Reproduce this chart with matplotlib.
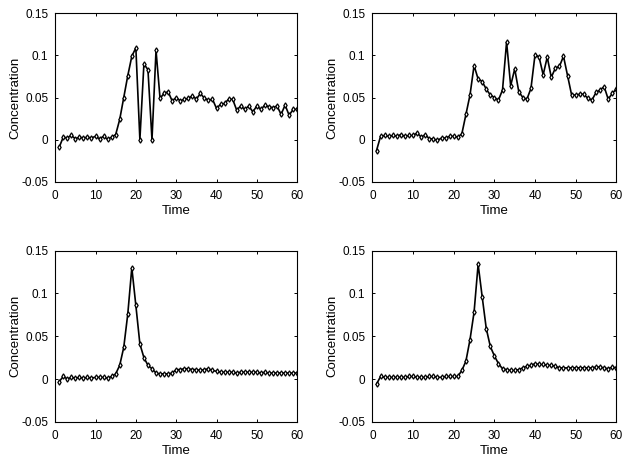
import numpy as np
import matplotlib.pyplot as plt

# time axis shared by all four panels
time = np.arange(1, 61)

# top-left panel
conc_a = [-0.009, 0.003, 0.002, 0.005, 0.001, 0.003, 0.002, 0.003, 0.002, 0.004,
          0.001, 0.004, 0.0005, 0.003, 0.006, 0.024, 0.050, 0.076, 0.099, 0.109,
          0.0, 0.090, 0.083, 0.0, 0.106, 0.049, 0.055, 0.057, 0.046, 0.050,
          0.046, 0.048, 0.049, 0.052, 0.048, 0.055, 0.049, 0.047, 0.048, 0.037,
          0.042, 0.043, 0.048, 0.048, 0.035, 0.040, 0.036, 0.040, 0.033, 0.040,
          0.036, 0.041, 0.039, 0.038, 0.040, 0.030, 0.041, 0.029, 0.036, 0.036]

# top-right panel
conc_b = [-0.013, 0.004, 0.005, 0.004, 0.005, 0.004, 0.006, 0.004, 0.005, 0.005,
          0.008, 0.003, 0.006, 0.001, 0.001, -0.001, 0.002, 0.002, 0.004, 0.004,
          0.003, 0.007, 0.030, 0.053, 0.088, 0.072, 0.069, 0.060, 0.053, 0.050,
          0.047, 0.059, 0.116, 0.064, 0.084, 0.057, 0.050, 0.048, 0.061, 0.101,
          0.098, 0.077, 0.098, 0.074, 0.085, 0.087, 0.099, 0.076, 0.053, 0.053,
          0.054, 0.054, 0.049, 0.047, 0.056, 0.059, 0.063, 0.048, 0.055, 0.060]

# bottom-left panel
conc_c = [-0.003, 0.003, 0.0, 0.002, 0.001, 0.002, 0.001, 0.002, 0.001, 0.002,
          0.002, 0.002, 0.001, 0.003, 0.006, 0.016, 0.037, 0.076, 0.130, 0.086,
          0.041, 0.025, 0.016, 0.012, 0.007, 0.006, 0.006, 0.006, 0.007, 0.011,
          0.011, 0.012, 0.012, 0.011, 0.011, 0.010, 0.011, 0.012, 0.010, 0.009,
          0.008, 0.008, 0.008, 0.008, 0.007, 0.008, 0.008, 0.008, 0.008, 0.008,
          0.007, 0.008, 0.007, 0.007, 0.007, 0.007, 0.007, 0.007, 0.007, 0.007]

# bottom-right panel
conc_d = [-0.006, 0.003, 0.002, 0.002, 0.002, 0.002, 0.002, 0.002, 0.003, 0.003,
          0.002, 0.002, 0.002, 0.003, 0.003, 0.002, 0.002, 0.003, 0.003, 0.003,
          0.003, 0.010, 0.021, 0.046, 0.078, 0.134, 0.096, 0.059, 0.038, 0.027,
          0.018, 0.012, 0.011, 0.010, 0.010, 0.011, 0.013, 0.015, 0.016, 0.018,
          0.017, 0.017, 0.016, 0.016, 0.015, 0.013, 0.013, 0.013, 0.013, 0.013,
          0.013, 0.013, 0.013, 0.013, 0.014, 0.014, 0.013, 0.012, 0.014, 0.013]

panels = [
    (conc_a, [0.088, 0.604, 0.386, 0.367]),
    (conc_b, [0.594, 0.604, 0.389, 0.367]),
    (conc_c, [0.088, 0.081, 0.386, 0.373]),
    (conc_d, [0.594, 0.081, 0.389, 0.373]),
]

plt.rcParams['font.family'] = ['Liberation Sans', 'DejaVu Sans']
fig = plt.figure(figsize=(6.27, 4.59), dpi=100)

for conc, rect in panels:
    ax = fig.add_axes(rect)
    ax.plot(time, conc, color='black', lw=1.2, marker='d', ms=2.7,
            mfc='white', mec='black', mew=0.9)
    ax.set_xlim(0, 60)
    ax.set_ylim(-0.05, 0.15)
    ax.set_xticks([0, 10, 20, 30, 40, 50, 60])
    ax.set_yticks([-0.05, 0, 0.05, 0.1, 0.15])
    ax.set_yticklabels(['-0.05', '0', '0.05', '0.1', '0.15'])
    ax.tick_params(direction='in', top=True, right=True, labelsize=8.5,
                   length=2.5, width=0.7)
    ax.tick_params(axis='x', pad=6)
    ax.tick_params(axis='y', pad=5)
    for s in ax.spines.values():
        s.set_linewidth(0.8)
    ax.set_xlabel('Time', fontsize=9.5, labelpad=2)
    ax.set_ylabel('Concentration', fontsize=9.5, labelpad=0)

fig.savefig('out.png', dpi=100)
